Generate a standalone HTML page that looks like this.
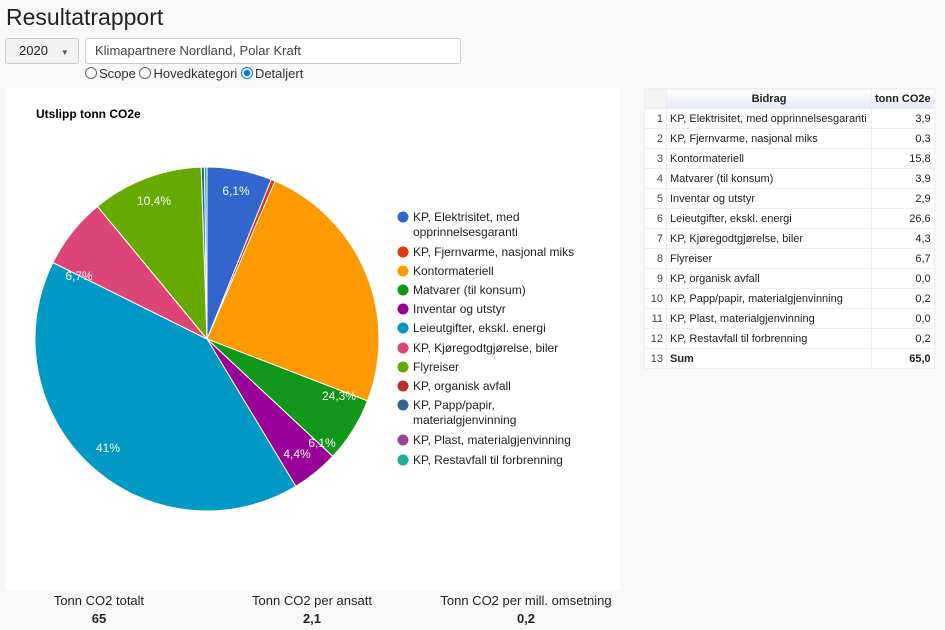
<!DOCTYPE html>
<html><head><meta charset="utf-8"><style>
body{margin:0;width:945px;height:627px;background:#f8f8f8;font-family:"Liberation Sans",Arial,sans-serif;position:relative;overflow:hidden;color:#212529}
.abs{position:absolute}
h1{position:absolute;left:6px;top:4px;margin:0;font-size:23px;font-weight:500;color:#222}
.sel{left:5px;top:38px;width:72px;height:24px;border:1px solid #ccc;border-radius:3px;background:#f2f2f2;font-size:13px;line-height:24px}
.inp{left:85px;top:38px;width:374px;height:24px;border:1px solid #ccc;border-radius:3px;background:#fff;font-size:13px;line-height:24px;color:#444}
.rad{left:85px;top:66px;font-size:13px;color:#333}
.rad span{display:inline-block;width:10px;height:10px;border:1px solid #666;border-radius:50%;vertical-align:-1px;margin-right:2px;background:#fff}
table{position:absolute;left:644px;top:88px;border-collapse:collapse;font-size:11px;background:#fff;color:#222}
td,th{border:1px solid #eee;height:19px;padding:0 3px;white-space:nowrap}
th{background:linear-gradient(#fff,#e4e9f4);font-weight:bold}
td.n{text-align:right;color:#444}
td.v{text-align:right}
.st{font-size:13px;text-align:center;width:220px}
</style></head><body>
<h1>Resultatrapport</h1>
<div class="abs sel"><span style="margin-left:13px">2020</span><span style="margin-left:13px;font-size:8px;color:#555">▼</span></div>
<div class="abs inp"><span style="margin-left:9px">Klimapartnere Nordland, Polar Kraft</span></div>
<div class="abs rad"><span></span>Scope <span></span>Hovedkategori <span style="border-color:#0075ff;background:radial-gradient(#0075ff 40%,#fff 50%)"></span>Detaljert</div>
<svg class="abs" style="left:5px;top:88px" width="615" height="502" viewBox="5 88 615 502">
<rect x="5" y="88" width="615" height="502" fill="#fff"/>
<text x="36" y="118" font-size="12" font-weight="bold" font-family="Liberation Sans,Arial">Utslipp tonn CO2e</text>
<g stroke="#fff" stroke-width="1">
<path d="M207 339L207 167A172 172 0 0 1 271.3 179.5Z" fill="#3366cc"/>
<path d="M207 339L271.3 179.5A172 172 0 0 1 275.1 181.1Z" fill="#dc3912"/>
<path d="M207 339L275.1 181.1A172 172 0 0 1 367.5 400.9Z" fill="#ff9900"/>
<path d="M207 339L367.5 400.9A172 172 0 0 1 332.7 456.4Z" fill="#109618"/>
<path d="M207 339L332.7 456.4A172 172 0 0 1 295.8 486.3Z" fill="#990099"/>
<path d="M207 339L295.8 486.3A172 172 0 0 1 52.9 262.6Z" fill="#0099c6"/>
<path d="M207 339L52.9 262.6A172 172 0 0 1 97.5 206.4Z" fill="#dd4477"/>
<path d="M207 339L97.5 206.4A172 172 0 0 1 201.2 167.1Z" fill="#66aa00"/>
<path d="M207 339L201.2 167.1A172 172 0 0 1 204.4 167Z" fill="#316395"/>
<path d="M207 339L204.4 167A172 172 0 0 1 207 167Z" fill="#22aa99"/>
</g>
<g fill="#fff" font-size="12" font-family="Liberation Sans,Arial" text-anchor="middle">
<text x="236" y="195">6,1%</text><text x="339" y="400">24,3%</text><text x="322" y="447">6,1%</text>
<text x="297" y="458">4,4%</text><text x="108" y="452">41%</text><text x="79" y="280">6,7%</text><text x="154" y="205">10,4%</text>
</g>
<g font-size="12" font-family="Liberation Sans,Arial" fill="#222">
<circle cx="403" cy="217" r="5.5" fill="#3366cc"/><text x="413" y="221">KP, Elektrisitet, med</text><text x="413" y="236">opprinnelsesgaranti</text>
<circle cx="403" cy="252" r="5.5" fill="#dc3912"/><text x="413" y="256">KP, Fjernvarme, nasjonal miks</text>
<circle cx="403" cy="271" r="5.5" fill="#ff9900"/><text x="413" y="275">Kontormateriell</text>
<circle cx="403" cy="290" r="5.5" fill="#109618"/><text x="413" y="294">Matvarer (til konsum)</text>
<circle cx="403" cy="309" r="5.5" fill="#990099"/><text x="413" y="313">Inventar og utstyr</text>
<circle cx="403" cy="328" r="5.5" fill="#0099c6"/><text x="413" y="332">Leieutgifter, ekskl. energi</text>
<circle cx="403" cy="348" r="5.5" fill="#dd4477"/><text x="413" y="352">KP, Kjøregodtgjørelse, biler</text>
<circle cx="403" cy="367" r="5.5" fill="#66aa00"/><text x="413" y="371">Flyreiser</text>
<circle cx="403" cy="386" r="5.5" fill="#b82e2e"/><text x="413" y="390">KP, organisk avfall</text>
<circle cx="403" cy="405" r="5.5" fill="#316395"/><text x="413" y="409">KP, Papp/papir,</text><text x="413" y="424">materialgjenvinning</text>
<circle cx="403" cy="440" r="5.5" fill="#994499"/><text x="413" y="444">KP, Plast, materialgjenvinning</text>
<circle cx="403" cy="460" r="5.5" fill="#22aa99"/><text x="413" y="464">KP, Restavfall til forbrenning</text>
</g>
</svg>
<table>
<tr><th style="background:#f3f3f3;width:15px"></th><th style="width:198px">Bidrag</th><th>tonn CO2e</th></tr>
<tr><td class="n">1</td><td>KP, Elektrisitet, med opprinnelsesgaranti</td><td class="v">3,9</td></tr>
<tr><td class="n">2</td><td>KP, Fjernvarme, nasjonal miks</td><td class="v">0,3</td></tr>
<tr><td class="n">3</td><td>Kontormateriell</td><td class="v">15,8</td></tr>
<tr><td class="n">4</td><td>Matvarer (til konsum)</td><td class="v">3,9</td></tr>
<tr><td class="n">5</td><td>Inventar og utstyr</td><td class="v">2,9</td></tr>
<tr><td class="n">6</td><td>Leieutgifter, ekskl. energi</td><td class="v">26,6</td></tr>
<tr><td class="n">7</td><td>KP, Kjøregodtgjørelse, biler</td><td class="v">4,3</td></tr>
<tr><td class="n">8</td><td>Flyreiser</td><td class="v">6,7</td></tr>
<tr><td class="n">9</td><td>KP, organisk avfall</td><td class="v">0,0</td></tr>
<tr><td class="n">10</td><td>KP, Papp/papir, materialgjenvinning</td><td class="v">0,2</td></tr>
<tr><td class="n">11</td><td>KP, Plast, materialgjenvinning</td><td class="v">0,0</td></tr>
<tr><td class="n">12</td><td>KP, Restavfall til forbrenning</td><td class="v">0,2</td></tr>
<tr><td class="n">13</td><td><b>Sum</b></td><td class="v"><b>65,0</b></td></tr>
</table>
<div class="abs st" style="left:-11px;top:593px">Tonn CO2 totalt<br><b style="line-height:22px">65</b></div>
<div class="abs st" style="left:202px;top:593px">Tonn CO2 per ansatt<br><b style="line-height:22px">2,1</b></div>
<div class="abs st" style="left:416px;top:593px">Tonn CO2 per mill. omsetning<br><b style="line-height:22px">0,2</b></div>
</body></html>
